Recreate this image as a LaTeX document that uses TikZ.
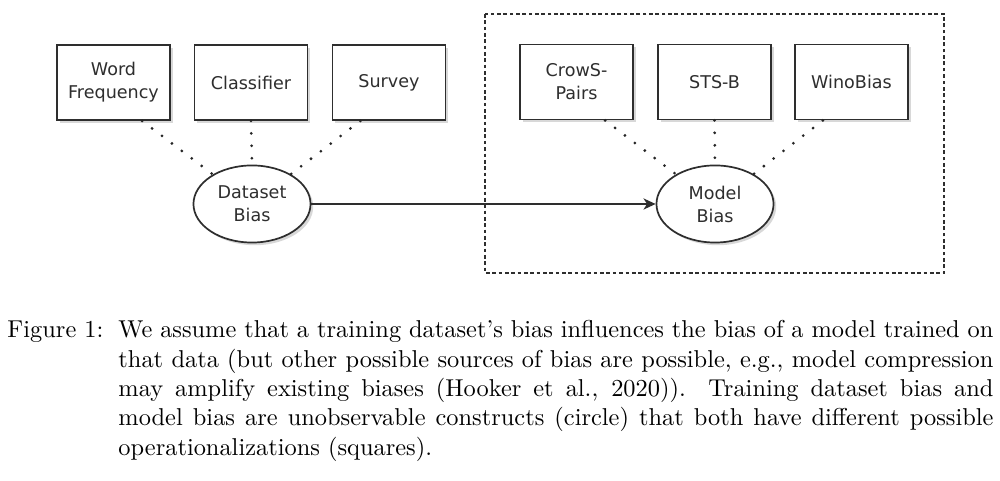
\documentclass[tikz,border=0pt]{standalone}
\usepackage{fontspec}
\newfontfamily\diafont{DejaVu Sans}
\usetikzlibrary{shapes.geometric,shadows,arrows.meta,calc}
\definecolor{ink}{HTML}{2E2E2E}
\tikzset{
  opbox/.style={draw=ink, line width=0.7pt, fill=white, minimum width=46.3pt,
    minimum height=30.8pt, inner sep=1pt, align=center,
    font=\diafont\fontsize{7.2}{9.4}\selectfont, text=ink,
    drop shadow={shadow xshift=1.1pt, shadow yshift=-1.1pt, opacity=0.25, fill=black!60}},
  construct/.style={ellipse, draw=ink, line width=0.7pt, fill=white, minimum width=48pt,
    minimum height=31.6pt, inner sep=0pt, align=center,
    font=\diafont\fontsize{7.2}{9.4}\selectfont, text=ink,
    drop shadow={shadow xshift=1.1pt, shadow yshift=-1.1pt, opacity=0.25, fill=black!60}},
  dotline/.style={line width=1.25pt, dash pattern=on 0pt off 5.1pt, line cap=round, draw=black!85},
  arrowline/.style={line width=0.7pt, draw=ink, -{Stealth[length=5pt,width=4.6pt,inset=1.5pt]}},
  groupbox/.style={draw=ink, line width=0.7pt, dash pattern=on 1.5pt off 1.1pt},
  captext/.style={anchor=base west, inner sep=0pt, font=\fontsize{10}{12}\selectfont}
}
\begin{document}
\begin{tikzpicture}[x=0.41pt, y=-0.41pt]
\useasboundingbox (0,0) rectangle (1000,481);
\fill[white] (0,0) rectangle (1000,481);
% group frame
\draw[groupbox] (485,14) rectangle (944,273);
% operationalizations
\node[opbox] (wf) at (113.5,82.5) {Word\\Frequency};
\node[opbox] (cl) at (251,82.5) {Classifier};
\node[opbox] (sv) at (389,82.5) {Survey};
\node[opbox] (cp) at (576.5,82) {CrowS-\\Pairs};
\node[opbox] (st) at (714.5,82) {STS-B};
\node[opbox] (wb) at (851.5,82) {WinoBias};
% constructs
\node[construct] (db) at (252,204) {Dataset\\Bias};
\node[construct] (mb) at (715,204) {Model\\Bias};
% dotted links
\draw[dotline] ($(wf.south)!0.5!(wf.south east)$) -- (db);
\draw[dotline] (cl.south) -- (db.north);
\draw[dotline] ($(sv.south)!0.5!(sv.south west)$) -- (db);
\draw[dotline] ($(cp.south)!0.5!(cp.south east)$) -- (mb);
\draw[dotline] (st.south) -- (mb.north);
\draw[dotline] ($(wb.south)!0.5!(wb.south west)$) -- (mb);
% causal arrow
\draw[arrowline] (db.east) -- (mb.west);
% caption
\node[captext] (figlabel) at (7,338) {Figure 1:};
\node[captext, text width=358.75pt, align=justify] (caption) at (118,338)
 {We assume that a training dataset's bias influences the bias of a model trained on\linebreak
  that data (but other possible sources of bias are possible, e.g., model compression\linebreak
  may amplify existing biases (Hooker et al., 2020)). Training dataset bias and\linebreak
  model bias are unobservable constructs (circle) that both have different possible\linebreak
  operationalizations (squares).};
\end{tikzpicture}
\end{document}
